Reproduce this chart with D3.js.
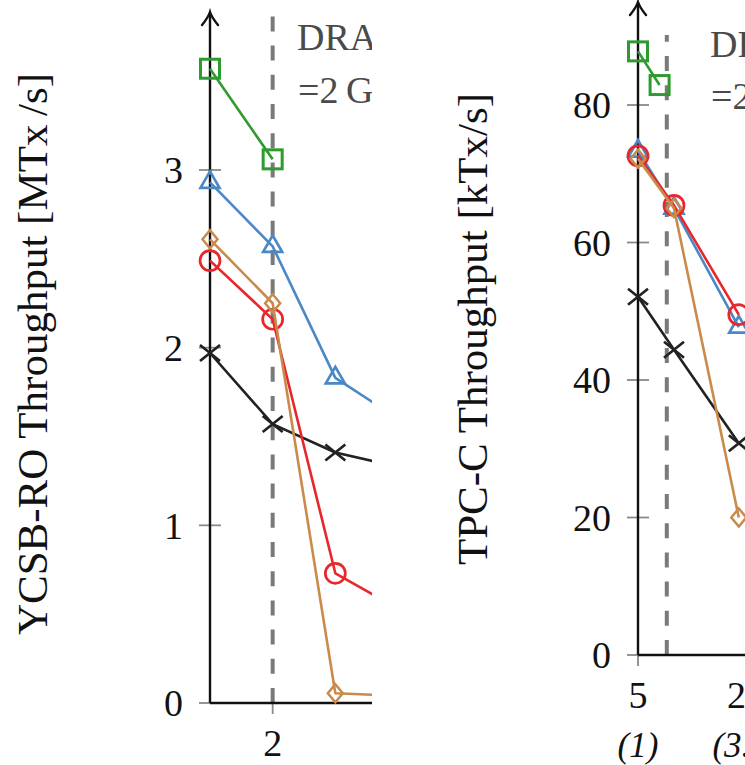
<!DOCTYPE html>
<html>
<head>
<meta charset="utf-8">
<script src="https://cdn.jsdelivr.net/npm/d3@7"></script>
<style>
  html, body { margin: 0; padding: 0; background: #fff; }
  svg { display: block; }
  text { font-family: "Liberation Serif", "DejaVu Serif", serif; }
</style>
</head>
<body>
<svg id="chart" width="745" height="765"></svg>
<script>
// ---------------- data ----------------
// Left panel: YCSB-RO throughput [MTx/s] vs. x (DRAM line at x = 2)
const ycsbX = [1, 2, 3, 4];
const ycsbGreenX = [1, 2];
const ycsbBlack  = [1.97, 1.57, 1.41, 1.33];
const ycsbGreen  = [3.57, 3.06];
const ycsbBlue   = [2.93, 2.57, 1.83, 1.60];
const ycsbRed    = [2.49, 2.16, 0.73, 0.53];
const ycsbOrange = [2.61, 2.25, 0.055, 0.04];
const ycsbYTicks = [0, 1, 2, 3];
const ycsbXTicks = [2];
const ycsbDram = 2;

// Right panel: TPC-C throughput [kTx/s] vs. warehouses
const tpcX = [5, 10, 19];
const tpcGreenX = [5, 8];
const tpcBlack  = [52.1, 44.4, 30.8];
const tpcGreen  = [87.8, 82.9];
const tpcBlue   = [73.3, 65.0, 47.7];
const tpcRed    = [72.6, 65.4, 49.5];
const tpcOrange = [72.2, 65.0, 20.0];
const tpcYTicks = [0, 20, 40, 60, 80];
const tpcXTicks = [5, 20];
const tpcXSubLabels = ["(1)", "(3.5)"];
const tpcDram = 9;

const dramLabel = ["DRAM", "=2\u2009GB"];

// ---------------- styles ----------------
const colors = { black: "#222222", green: "#2e9b2e", blue: "#4a88c6", red: "#e8262b", orange: "#c98a4b" };
const svg = d3.select("#chart");

svg.append("defs").append("clipPath").attr("id", "clipL")
  .append("rect").attr("x", 0).attr("y", 0).attr("width", 372).attr("height", 765);

function marker(g, type, color) {
  const sw = 2.7;
  if (type === "square") {
    g.append("rect").attr("x", -9.5).attr("y", -9.5).attr("width", 19).attr("height", 19)
      .attr("fill", "none").attr("stroke", color).attr("stroke-width", 3);
  } else if (type === "circle") {
    g.append("circle").attr("r", 10).attr("fill", "none").attr("stroke", color).attr("stroke-width", sw);
  } else if (type === "triangle") {
    const r = 11;
    g.append("path").attr("d", `M0,${-r}L${0.866*r},${0.5*r}L${-0.866*r},${0.5*r}Z`)
      .attr("fill", "none").attr("stroke", color).attr("stroke-width", sw);
  } else if (type === "diamond") {
    g.append("path").attr("d", "M0,-9L7.5,0L0,9L-7.5,0Z")
      .attr("fill", "none").attr("stroke", color).attr("stroke-width", 2.5);
  } else if (type === "cross") {
    g.append("path").attr("d", "M-10,-8L10,8M-10,8L10,-8")
      .attr("fill", "none").attr("stroke", color).attr("stroke-width", 2.7);
  }
}

function drawPanel(opt) {
  const root = svg.append("g");
  if (opt.clip) root.attr("clip-path", "url(#clipL)");
  const x = d3.scaleLinear().domain(opt.xDomain).range(opt.xRange);
  const y = d3.scaleLinear().domain(opt.yDomain).range(opt.yRange);
  const ax = opt.xRange[0], ay = opt.yRange[0];
  const tickCol = "#8a8a8a";

  // y ticks (centered on axis)
  root.selectAll(".ytk").data(opt.yTicks).join("line")
    .attr("x1", ax - 11).attr("x2", ax + 11)
    .attr("y1", d => y(d)).attr("y2", d => y(d))
    .attr("stroke", tickCol).attr("stroke-width", 1.8);
  root.selectAll(".ytl").data(opt.yTicks).join("text")
    .attr("x", ax - 27).attr("y", d => y(d)).attr("dy", "0.35em")
    .attr("text-anchor", "end").attr("font-size", 38).attr("fill", "#111")
    .text(d => d3.format("d")(d));

  // x ticks
  root.selectAll(".xtk").data(opt.xTicks).join("line")
    .attr("x1", d => x(d)).attr("x2", d => x(d))
    .attr("y1", ay - 11).attr("y2", ay + 11)
    .attr("stroke", tickCol).attr("stroke-width", 1.8);
  root.selectAll(".xtl").data(opt.xTicks).join("text")
    .attr("x", d => x(d)).attr("y", ay + 53)
    .attr("text-anchor", "middle").attr("font-size", 38).attr("fill", "#111")
    .text(d => d);
  if (opt.xSub) {
    root.selectAll(".xsl").data(opt.xTicks).join("text")
      .attr("x", d => x(d)).attr("y", ay + 102)
      .attr("text-anchor", "middle").attr("font-size", 35).attr("font-style", "italic").attr("fill", "#111")
      .text((d, i) => opt.xSub[i]);
  }

  // dashed DRAM line (pattern anchored at the bottom)
  root.append("line")
    .attr("x1", x(opt.dram)).attr("x2", x(opt.dram))
    .attr("y1", ay).attr("y2", opt.dashTop)
    .attr("stroke", "#7a7a7a").attr("stroke-width", 4)
    .attr("stroke-dasharray", "15,14.2");

  // annotation
  root.append("text").attr("x", opt.annX).attr("y", opt.annY[0])
    .attr("font-size", 38).attr("fill", "#4a4a4a").text(dramLabel[0]);
  root.append("text").attr("x", opt.annX + 1).attr("y", opt.annY[1])
    .attr("font-size", 38).attr("fill", "#4a4a4a").text(dramLabel[1]);

  // axes lines
  root.append("line").attr("x1", ax).attr("x2", 760).attr("y1", ay).attr("y2", ay)
    .attr("stroke", "#111").attr("stroke-width", 2.4);
  root.append("line").attr("x1", ax).attr("x2", ax).attr("y1", ay).attr("y2", opt.arrowTip + 1)
    .attr("stroke", "#111").attr("stroke-width", 2.4);
  root.append("path")
    .attr("d", `M${ax - 8},${opt.arrowTip + 13} Q${ax - 1.5},${opt.arrowTip + 5} ${ax},${opt.arrowTip} Q${ax + 1.5},${opt.arrowTip + 5} ${ax + 8},${opt.arrowTip + 13}`)
    .attr("fill", "none").attr("stroke", "#111").attr("stroke-width", 2.4).attr("stroke-linecap", "round");

  // series
  const line = d3.line().x(d => x(d[0])).y(d => y(d[1]));
  opt.series.forEach(s => {
    const pts = s.xs.map((xv, i) => [xv, s.ys[i]]);
    root.append("path").datum(pts).attr("d", line)
      .attr("fill", "none").attr("stroke", s.color).attr("stroke-width", 2.6).attr("stroke-linejoin", "round");
    pts.forEach(p => {
      const g = root.append("g").attr("transform", `translate(${x(p[0])},${y(p[1])})`);
      marker(g, s.marker, s.color);
    });
  });

  // y axis label
  svg.append("text")
    .attr("transform", `translate(${opt.labelX},${opt.labelY}) rotate(-90)`)
    .attr("text-anchor", "middle").attr("font-size", 43).attr("fill", "#111")
    .text(opt.yLabel);
}

drawPanel({
  clip: true,
  xDomain: [1, 4], xRange: [210, 398],
  yDomain: [0, 3], yRange: [703, 170],
  yTicks: ycsbYTicks, xTicks: ycsbXTicks,
  dram: ycsbDram, dashTop: 10, arrowTip: 12,
  annX: 297, annY: [50, 103],
  labelX: 47, labelY: 354,
  yLabel: "YCSB-RO Throughput [MTx\u2009/s]",
  series: [
    { xs: ycsbX, ys: ycsbBlack, color: colors.black, marker: "cross" },
    { xs: ycsbGreenX, ys: ycsbGreen, color: colors.green, marker: "square" },
    { xs: ycsbX, ys: ycsbBlue, color: colors.blue, marker: "triangle" },
    { xs: ycsbX, ys: ycsbRed, color: colors.red, marker: "circle" },
    { xs: ycsbX, ys: ycsbOrange, color: colors.orange, marker: "diamond" }
  ]
});

drawPanel({
  clip: false,
  xDomain: [5, 20], xRange: [638, 746],
  yDomain: [0, 80], yRange: [655, 105],
  yTicks: tpcYTicks, xTicks: tpcXTicks, xSub: tpcXSubLabels,
  dram: tpcDram, dashTop: 35, arrowTip: 2,
  annX: 710, annY: [57, 109],
  labelX: 487, labelY: 329,
  yLabel: "TPC-C Throughput [kTx/s]",
  series: [
    { xs: tpcX, ys: tpcBlack, color: colors.black, marker: "cross" },
    { xs: tpcGreenX, ys: tpcGreen, color: colors.green, marker: "square" },
    { xs: tpcX, ys: tpcBlue, color: colors.blue, marker: "triangle" },
    { xs: tpcX, ys: tpcRed, color: colors.red, marker: "circle" },
    { xs: tpcX, ys: tpcOrange, color: colors.orange, marker: "diamond" }
  ]
});
</script>
</body>
</html>
